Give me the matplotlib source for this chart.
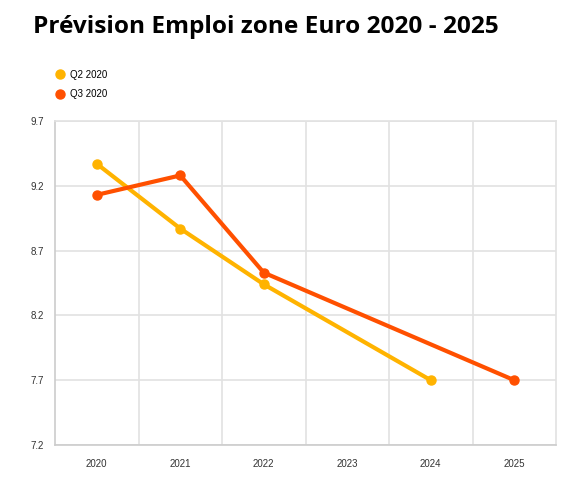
import matplotlib
matplotlib.use("Agg")
import matplotlib.pyplot as plt
from matplotlib.lines import Line2D

categories = ["2020", "2021", "2022", "2023", "2024", "2025"]
q2_years = ["2020", "2021", "2022", "2024"]
q2_values = [9.37, 8.87, 8.44, 7.70]
q3_years = ["2020", "2021", "2022", "2025"]
q3_values = [9.13, 9.28, 8.53, 7.70]
y_ticks = [7.2, 7.7, 8.2, 8.7, 9.2, 9.7]
series_names = ["Q2 2020", "Q3 2020"]
colors = ["#FFB300", "#FF5000"]

fig = plt.figure(figsize=(5.63, 4.8), dpi=100)
ax = fig.add_axes([55/563, 1-445/480, (556-55)/563, (445-121)/480])

idx = {c: i for i, c in enumerate(categories)}
for yrs, vals, col in [(q2_years, q2_values, colors[0]), (q3_years, q3_values, colors[1])]:
    xs = [idx[y] for y in yrs]
    ax.plot(xs, vals, color=col, lw=3, marker="o", ms=6.5, solid_capstyle="round", zorder=3)

ax.set_xlim(-0.5, len(categories) - 0.5)
ax.set_ylim(7.2, 9.7)
ax.set_yticks(y_ticks)
ax.set_yticklabels([f"{v:.1f}" for v in y_ticks])
ax.set_xticks(range(len(categories)))
ax.set_xticklabels(categories)
ax.set_xticks([i + 0.5 for i in range(len(categories) - 1)], minor=True)
ax.grid(True, which="major", axis="y", color="#e2e2e2", lw=1.2)
ax.grid(True, which="minor", axis="x", color="#e2e2e2", lw=1.2)
ax.tick_params(which="both", length=0)
ax.tick_params(axis="y", pad=8, labelsize=7, labelcolor="#333333")
ax.tick_params(axis="x", pad=10, labelsize=7, labelcolor="#333333")
for lab in ax.get_xticklabels() + ax.get_yticklabels():
    lab.set_family("Liberation Sans")
for s in ["top", "right"]:
    ax.spines[s].set_color("#e2e2e2")
    ax.spines[s].set_linewidth(1.2)
for s in ["left", "bottom"]:
    ax.spines[s].set_color("#cccccc")
    ax.spines[s].set_linewidth(1.2)
ax.set_axisbelow(True)

fig.text(33/563, 1-27/480, "Prévision Emploi zone Euro 2020 - 2025", fontsize=17.6,
         fontweight="bold", family="Open Sans", va="center", ha="left")

handles = [Line2D([], [], color=c, marker="o", ls="none", ms=6.5) for c in colors]
fig.legend(handles, series_names, loc="upper left", bbox_to_anchor=(49/563, 1-65/480),
           frameon=False, prop={"family": "Liberation Sans", "size": 7},
           handletextpad=0.5, labelspacing=0.95, borderpad=0, handlelength=1.2)

fig.savefig("out.png", dpi=100)
